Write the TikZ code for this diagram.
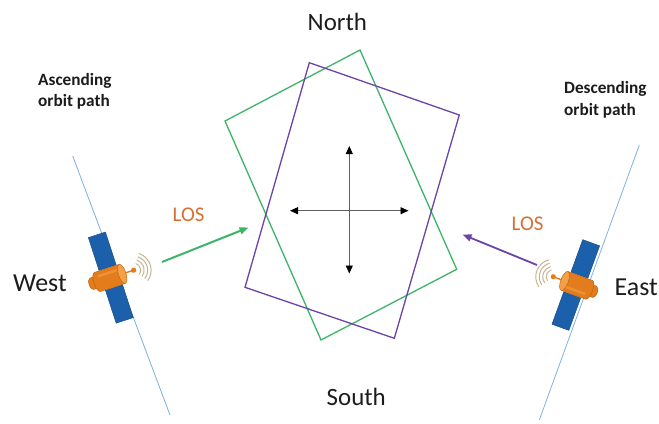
\documentclass[tikz,border=0pt]{standalone}
\usepackage{fontspec}
\setmainfont{Carlito}
\usetikzlibrary{arrows.meta}

\definecolor{orbitblue}{RGB}{125,175,225}
\definecolor{panelblue}{RGB}{28,96,172}
\definecolor{paneledge}{RGB}{20,70,130}
\definecolor{bodyorange}{RGB}{226,124,28}
\definecolor{bodydark}{RGB}{190,95,15}
\definecolor{bodylight}{RGB}{244,160,70}
\definecolor{wavetan}{RGB}{200,180,145}
\definecolor{frameg}{RGB}{62,180,105}
\definecolor{framep}{RGB}{108,68,168}
\definecolor{losorange}{RGB}{212,112,52}
\definecolor{crossgray}{RGB}{95,95,95}
\definecolor{ink}{RGB}{28,28,28}

\tikzset{
  orbit/.style={draw=orbitblue, line width=0.8bp},
  greenframe/.style={draw=frameg, line width=1.3bp, line join=miter},
  purpleframe/.style={draw=framep, line width=1.3bp, line join=miter},
  crossarrow/.style={draw=crossgray, line width=0.9bp, {Triangle[length=8bp,width=7bp,fill=black,color=black]}-{Triangle[length=8bp,width=7bp,fill=black,color=black]}},
  losgreen/.style={draw=frameg, line width=2bp, -{Triangle[length=9bp,width=7bp]}},
  lospurple/.style={draw=framep, line width=1.8bp, -{Triangle[length=9bp,width=7bp]}},
  compass/.style={font=\fontsize{25}{30}\selectfont, text=ink, inner sep=0pt},
  side/.style={font=\fontsize{26}{30}\selectfont, text=ink, inner sep=0pt},
  pathlabel/.style={font=\bfseries\fontsize{17.3}{21.6}\selectfont, text=ink, inner sep=0pt, align=left},
  loslabel/.style={font=\fontsize{21}{25}\selectfont, text=losorange, inner sep=0pt},
  wave/.style={draw=wavetan, line width=1bp},
  satellite/.pic={
    % solar panels along the orbit direction
    \filldraw[fill=panelblue, draw=paneledge, line width=0.4bp] (-9,10.5) rectangle (9,45);
    \filldraw[fill=panelblue, draw=paneledge, line width=0.4bp] (-9,-10.5) rectangle (9,-45);
    % rear nozzle
    \filldraw[fill=bodyorange, draw=bodydark, line width=0.4bp]
      (-14,-6) -- (-20,-6) arc[start angle=-90, end angle=-270, x radius=2.8, y radius=6] -- (-14,6) -- cycle;
    % main cylinder
    \filldraw[fill=bodyorange, draw=bodydark, line width=0.4bp]
      (12,-10) -- (-14,-10) arc[start angle=-90, end angle=-270, x radius=3.8, y radius=10] -- (12,10) -- cycle;
    \fill[bodylight, opacity=0.6] (-12,-6.5) rectangle (10,-4);
    \filldraw[fill=bodylight, draw=bodydark, line width=0.4bp] (12,0) ellipse[x radius=3.8, y radius=10];
    % antenna
    \draw[bodyorange, line width=1.4bp] (15,0) -- (22,0);
    \fill[bodyorange] (24,0) circle[radius=2.6];
    % radio waves
    \foreach \r in {7,10.5,14,17.5}
      \draw[wave] (24,0) ++(-55:\r) arc[start angle=-55, end angle=55, radius=\r];
  }
}

\begin{document}
\begin{tikzpicture}[x=1bp, y=-1bp]
  \useasboundingbox (0,0) rectangle (659,423);
  \fill[white] (0,0) rectangle (659,423);

  % orbit tracks
  \coordinate (ascTop) at (72.7,156);
  \coordinate (ascBot) at (170,415);
  \coordinate (desTop) at (639.3,145);
  \coordinate (desBot) at (539.3,420);
  \draw[orbit] (ascTop) -- (ascBot);
  \draw[orbit] (desTop) -- (desBot);

  % imaged footprints
  \coordinate (gT) at (360,50);
  \coordinate (gL) at (225,121);
  \coordinate (gB) at (321,340);
  \coordinate (gR) at (456.7,269.3);
  \coordinate (pTL) at (309.3,62.7);
  \coordinate (pTR) at (459.3,115);
  \coordinate (pBR) at (394.3,338.3);
  \coordinate (pBL) at (245,287.3);
  \draw[greenframe] (gT) -- (gL) -- (gB) -- (gR) -- cycle;
  \draw[purpleframe] (pTL) -- (pTR) -- (pBR) -- (pBL) -- cycle;

  % displacement cross
  \coordinate (cxL) at (290,210.7);
  \coordinate (cxR) at (408.5,210.7);
  \coordinate (cxT) at (349.3,146);
  \coordinate (cxB) at (349.3,273.5);
  \draw[crossarrow] (cxL) -- (cxR);
  \draw[crossarrow] (cxT) -- (cxB);

  % satellites
  \pic[rotate=18] (westsat) at (110.8,277.6) {satellite};
  \pic[rotate=160] (eastsat) at (575.8,285) {satellite};

  % lines of sight
  \coordinate (losWs) at (162,262);
  \coordinate (losWe) at (248.5,227.5);
  \coordinate (losEs) at (537,265);
  \coordinate (losEe) at (462.5,234.5);
  \draw[losgreen] (losWs) -- (losWe);
  \draw[lospurple] (losEs) -- (losEe);

  % labels
  \node[compass, anchor=base west] (north) at (307.5,30) {North};
  \node[compass, anchor=base west] (south) at (326.5,405) {South};
  \node[side, anchor=base west] (west) at (13,291.7) {West};
  \node[side, anchor=base west] (east) at (614.5,295) {East};
  \node[pathlabel, anchor=base west] (asc) at (38,106.7) {Ascending\\orbit path};
  \node[pathlabel, anchor=base west] (des) at (564,115) {Descending\\orbit path};
  \node[loslabel, anchor=base west] (losW) at (172.5,221.7) {LOS};
  \node[loslabel, anchor=base west] (losE) at (511.5,230) {LOS};
\end{tikzpicture}
\end{document}
